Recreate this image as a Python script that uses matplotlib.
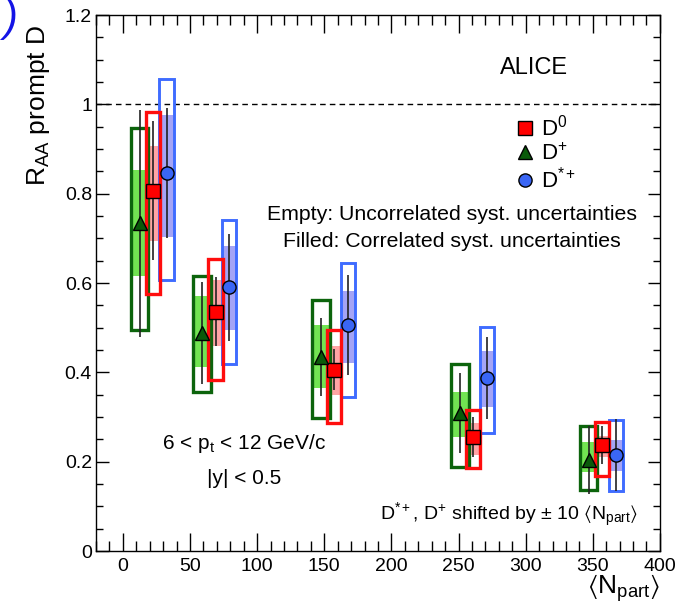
import numpy as np
import matplotlib
matplotlib.use('Agg')
import matplotlib.pyplot as plt
from matplotlib.ticker import MultipleLocator, FuncFormatter

plt.rcParams['font.family'] = ['Liberation Sans', 'DejaVu Sans']
plt.rcParams['mathtext.fontset'] = 'custom'
plt.rcParams['mathtext.rm'] = 'Liberation Sans'
plt.rcParams['mathtext.it'] = 'Liberation Sans'
plt.rcParams['mathtext.bf'] = 'Liberation Sans:bold'
plt.rcParams['mathtext.fallback'] = 'stixsans'

# centrality classes (mean number of participants)
npart = np.array([22.5, 69.0, 157.5, 261.0, 357.0])
shift = 10.0

# D0
d0_val = np.array([0.807, 0.536, 0.406, 0.256, 0.237])
d0_stat = np.array([0.155, 0.078, 0.046, 0.045, 0.043])
d0_unc_up = np.array([0.176, 0.117, 0.089, 0.059, 0.052])
d0_unc_dn = np.array([0.231, 0.154, 0.120, 0.070, 0.070])
d0_cor_up = np.array([0.100, 0.071, 0.052, 0.030, 0.021])
d0_cor_dn = np.array([0.114, 0.077, 0.056, 0.041, 0.027])

# D+
dp_val = np.array([0.734, 0.488, 0.434, 0.309, 0.204])
dp_stat = np.array([0.254, 0.115, 0.087, 0.089, 0.076])
dp_unc_up = np.array([0.214, 0.128, 0.128, 0.109, 0.075])
dp_unc_dn = np.array([0.239, 0.131, 0.137, 0.120, 0.068])
dp_cor_up = np.array([0.119, 0.083, 0.072, 0.048, 0.040])
dp_cor_dn = np.array([0.118, 0.076, 0.069, 0.053, 0.026])

# D*+
ds_val = np.array([0.846, 0.590, 0.505, 0.387, 0.215])
ds_stat = np.array([0.146, 0.119, 0.112, 0.092, 0.080])
ds_unc_up = np.array([0.210, 0.151, 0.139, 0.115, 0.078])
ds_unc_dn = np.array([0.239, 0.171, 0.160, 0.123, 0.081])
ds_cor_up = np.array([0.130, 0.093, 0.078, 0.061, 0.033])
ds_cor_dn = np.array([0.142, 0.096, 0.084, 0.065, 0.035])

fig = plt.figure(figsize=(6.91, 6.10), dpi=100)
ax = fig.add_axes([0.139, 0.0967, 0.816, 0.8787])


def draw_fill(x, val, up, dn, width, color):
    ax.bar(x, up + dn, bottom=val - dn, width=width, color=color,
           linewidth=0, zorder=2)


def draw_box(x, val, up, dn, width, color, lw):
    ax.bar(x, up + dn, bottom=val - dn, width=width, fill=False,
           edgecolor=color, linewidth=lw, zorder=3)


x_dp = npart - shift
x_d0 = npart
x_ds = npart + shift

# correlated systematics (filled)
draw_fill(x_dp, dp_val, dp_cor_up, dp_cor_dn, 13.0, '#72e452')
draw_fill(x_ds, ds_val, ds_cor_up, ds_cor_dn, 10.5, '#a4a4f6')
draw_fill(x_d0, d0_val, d0_cor_up, d0_cor_dn, 10.5, '#ffa4a4')

# uncorrelated systematics (empty)
draw_box(x_dp, dp_val, dp_unc_up, dp_unc_dn, 13.0, '#0c640c', 2.4)
draw_box(x_ds, ds_val, ds_unc_up, ds_unc_dn, 10.5, '#3f6cff', 2.1)
draw_box(x_d0, d0_val, d0_unc_up, d0_unc_dn, 10.5, '#ff0d0d', 2.4)

# statistical errors
for x, v, s in [(x_dp, dp_val, dp_stat), (x_d0, d0_val, d0_stat), (x_ds, ds_val, ds_stat)]:
    ax.errorbar(x, v, yerr=s, fmt='none', ecolor='#222222', elinewidth=1.2,
                capsize=0, zorder=4)

h_d0, = ax.plot(x_d0, d0_val, ls='none', marker='s', ms=9.5, mfc='#ff0000',
                mec='black', mew=1.0, zorder=5, label='D$^{0}$')
h_dp, = ax.plot(x_dp, dp_val, ls='none', marker='^', ms=9.5, mfc='#0a5a0a',
                mec='black', mew=1.0, zorder=5, label='D$^{+}$')
h_ds, = ax.plot(x_ds, ds_val, ls='none', marker='o', ms=9.5, mfc='#3a66f5',
                mec='black', mew=1.0, zorder=5, label='D$^{*+}$')

ax.axhline(1.0, color='black', ls=(0, (4, 3)), lw=1.0, zorder=1)

ax.set_xlim(-20, 400)
ax.set_ylim(0, 1.2)
ax.xaxis.set_major_locator(MultipleLocator(50))
ax.xaxis.set_minor_locator(MultipleLocator(10))
ax.yaxis.set_major_locator(MultipleLocator(0.2))
ax.yaxis.set_minor_locator(MultipleLocator(0.05))
ax.yaxis.set_major_formatter(FuncFormatter(lambda v, p: '%g' % round(v, 2)))
ax.tick_params(which='both', direction='in', top=True, right=True,
               labelsize=14, width=1.0)
ax.tick_params(axis='x', which='major', length=13, pad=5)
ax.tick_params(axis='x', which='minor', length=7)
ax.tick_params(axis='y', which='major', length=9, pad=3)
ax.tick_params(axis='y', which='minor', length=5)
for sp in ax.spines.values():
    sp.set_linewidth(1.0)

ax.set_ylabel('R$_{AA}$ prompt D', fontsize=19, loc='top')
ax.yaxis.set_label_coords(-0.078, 0.981)
ax.set_xlabel(r'$\langle$N$_{part}$$\rangle$', fontsize=19, loc='right')
ax.xaxis.set_label_coords(1.0, -0.04)

ax.legend(handles=[h_d0, h_dp, h_ds], loc='upper left',
          bbox_to_anchor=(0.73, 0.83), frameon=False, fontsize=16,
          numpoints=1, handlelength=0.8, handletextpad=0.3,
          labelspacing=0.1, borderaxespad=0)

ax.text(0.777, 0.901, 'ALICE', transform=ax.transAxes, fontsize=17,
        ha='center', va='center')
ax.text(0.631, 0.627, 'Empty: Uncorrelated syst. uncertainties',
        transform=ax.transAxes, fontsize=15.3, ha='center', va='center')
ax.text(0.631, 0.577, 'Filled: Correlated syst. uncertainties',
        transform=ax.transAxes, fontsize=15.3, ha='center', va='center')
ax.text(0.262, 0.201, '6 < p$_{t}$ < 12 GeV/c', transform=ax.transAxes,
        fontsize=15, ha='center', va='center')
ax.text(0.262, 0.136, '|y| < 0.5', transform=ax.transAxes,
        fontsize=15, ha='center', va='center')
ax.text(0.961, 0.067,
        r'D$^{*+}$, D$^{+}$ shifted by ± 10 $\langle$N$_{part}$$\rangle$',
        transform=ax.transAxes, fontsize=14, ha='right', va='center')

fig.text(0.004, 1.0, ')', color='#1414e6', fontsize=30, style='italic',
         ha='left', va='top')

fig.savefig('out.png', dpi=100)
